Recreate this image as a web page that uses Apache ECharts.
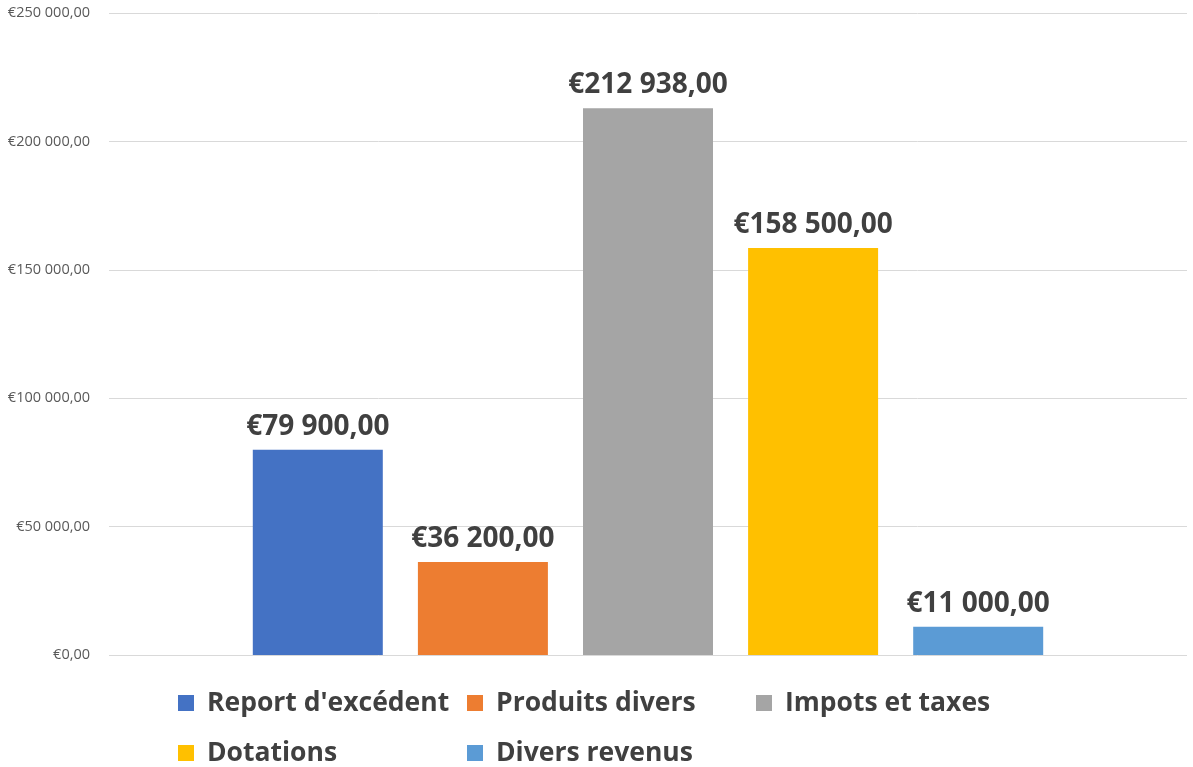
<!DOCTYPE html>
<html>
<head>
<meta charset="utf-8">
<script src="https://cdn.jsdelivr.net/npm/echarts@6/dist/echarts.min.js"></script>
<style>html,body{margin:0;padding:0;background:#fff;}#c{width:1193px;height:767px;}</style>
</head>
<body>
<div id="c"></div>
<script>
const categories = [''];
const seriesNames = ["Report d'excédent", "Produits divers", "Impots et taxes", "Dotations", "Divers revenus"];
const seriesValues = [79900, 36200, 212938, 158500, 11000];
const seriesColors = ['#4472C4', '#ED7D31', '#A5A5A5', '#FFC000', '#5B9BD5'];
const yMin = 0, yMax = 250000, yInterval = 50000;

function fmtEuro(v) {
  const s = Math.round(v).toString().replace(/\B(?=(\d{3})+(?!\d))/g, ' ');
  return '€' + s + ',00';
}

const chart = echarts.init(document.getElementById('c'));
const font = '"Open Sans", "Noto Sans", sans-serif';
chart.setOption({
  animation: false,
  textStyle: { fontFamily: font },
  grid: { left: 109, right: 6, top: 13, bottom: 112, containLabel: false },
  xAxis: {
    type: 'category', data: categories,
    axisLine: { show: false }, axisTick: { show: false }, axisLabel: { show: false }
  },
  yAxis: {
    type: 'value', min: yMin, max: yMax, interval: yInterval,
    axisLine: { show: false }, axisTick: { show: false },
    splitLine: { lineStyle: { color: '#D9D9D9', width: 1 } },
    axisLabel: { formatter: fmtEuro, color: '#595959', fontSize: 14.5, margin: 19, fontFamily: font }
  },
  legend: {
    left: 173, top: 678, width: 900,
    itemWidth: 16, itemHeight: 16, itemGap: 10,
    icon: 'rect',
    textStyle: { fontSize: 26.5, fontWeight: 'bold', color: '#404040', width: 250, padding: [0, 0, 0, 8], lineHeight: 40, fontFamily: font },
    data: seriesNames
  },
  series: seriesNames.map((n, i) => ({
    name: n, type: 'bar', data: [seriesValues[i]],
    barWidth: 130, barGap: '27%',
    itemStyle: { color: seriesColors[i] },
    label: {
      show: true, position: 'top', distance: 9,
      formatter: p => fmtEuro(p.value),
      fontSize: 28, fontWeight: 'bold', color: '#404040', fontFamily: font
    }
  }))
});
</script>
</body>
</html>
